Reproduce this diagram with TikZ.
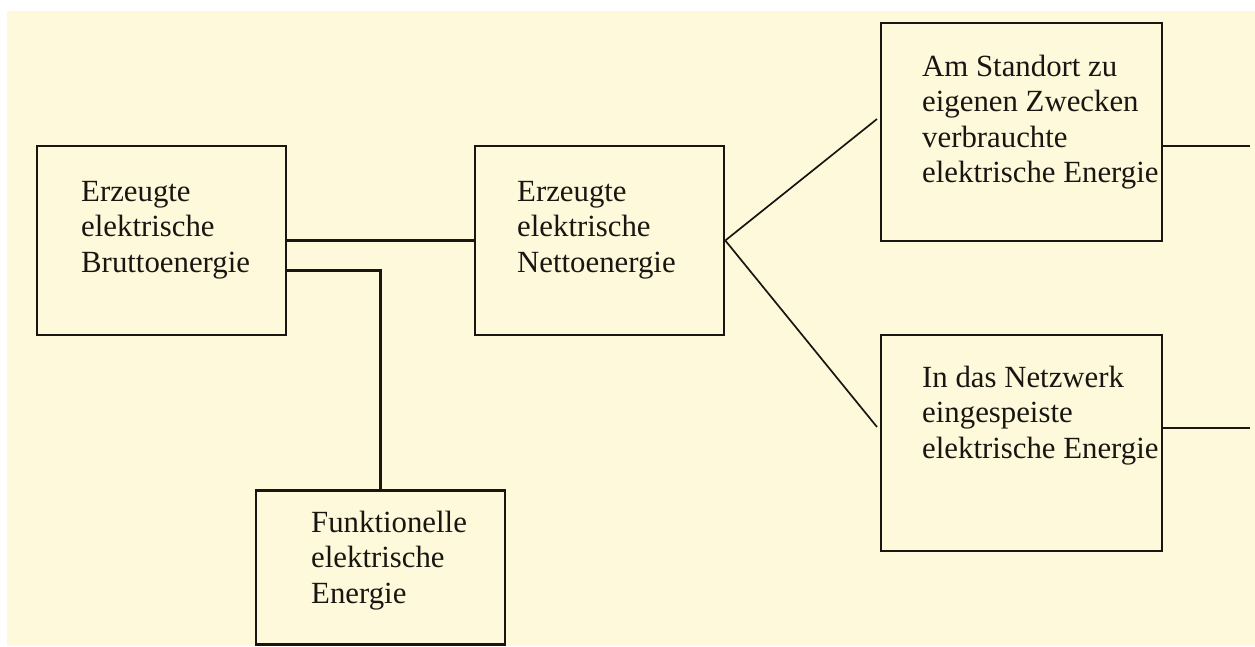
\documentclass[tikz,border=0pt]{standalone}
\usepackage{fontspec}
\setmainfont{Liberation Serif}
\definecolor{paper}{RGB}{255,249,219}
\definecolor{ink}{RGB}{25,22,18}
\begin{document}
\begin{tikzpicture}[x=1pt,y=-1pt,
  box/.style={draw=ink,line width=2.6pt,fill=paper,inner sep=0pt},
  label/.style={anchor=base west,inner sep=0pt,align=left,text=ink,
    font=\fontsize{30.8}{35.5}\selectfont},
  link/.style={draw=ink,line width=2.3pt},
  slant/.style={draw=ink,line width=1.7pt}]
  % page and coloured panel
  \useasboundingbox (0,0) rectangle (1255,647);
  \fill[white] (0,0) rectangle (1255,647);
  \fill[paper] (7,11) rectangle (1255,646);

  % boxes (corner to corner)
  \node[box,minimum width=249pt,minimum height=189pt] (brutto) at (161.5,240.5) {};
  \node[box,minimum width=249pt,minimum height=154pt] (funk)   at (380.5,567.5) {};
  \node[box,minimum width=249pt,minimum height=189pt] (netto)  at (599.5,240.5) {};
  \node[box,minimum width=281pt,minimum height=218pt] (stand)  at (1021.5,132) {};
  \node[box,minimum width=281pt,minimum height=216pt] (netz)   at (1021.5,443) {};

  % texts, placed by the baseline of their last line
  \node[label] (brutto-t) at (81,272)   {Erzeugte\\elektrische\\Bruttoenergie};
  \node[label] (netto-t)  at (517,272)  {Erzeugte\\elektrische\\Nettoenergie};
  \node[label] (funk-t)   at (311,603)  {Funktionelle\\elektrische\\Energie};
  \node[label] (stand-t)  at (922,183)  {Am Standort zu\\eigenen Zwecken\\verbrauchte\\elektrische Energie};
  \node[label] (netz-t)   at (922,458)  {In das Netzwerk\\eingespeiste\\elektrische Energie};

  % free ends of the connectors
  \coordinate (up-end)   at (877,119);
  \coordinate (down-end) at (877,427);
  \coordinate (stand-out) at (1250,146);
  \coordinate (netz-out)  at (1250,428);

  % connectors
  \draw[link] (brutto.east) -- (netto.west);
  \draw[link] ([yshift=-30pt]brutto.east) -| (funk.north);
  \draw[slant] (netto.east) -- (up-end);
  \draw[slant] (netto.east) -- (down-end);
  \draw[link] (stand.east |- stand-out) -- (stand-out);
  \draw[link] (netz.east |- netz-out) -- (netz-out);
\end{tikzpicture}
\end{document}
